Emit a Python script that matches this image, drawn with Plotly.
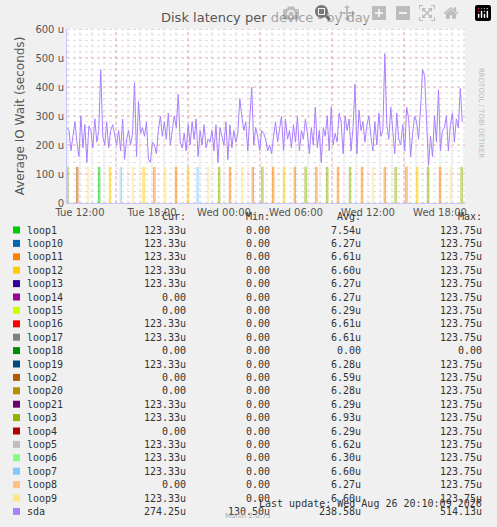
import plotly.graph_objects as go

# sda latency (microseconds), 10-minute samples starting Tue 10:55 (hours since Tue 00:00)
sda_start = 10.92
sda_step = 0.1655
sda_values = [
    260, 250, 180, 230, 280, 210, 160, 300, 190, 270, 140, 265, 250, 190, 290, 210, 250, 460, 230, 200,
    280, 190, 250, 270, 230, 200, 250, 180, 290, 150, 220, 250, 200, 240, 415, 160, 350, 240, 260, 230,
    280, 150, 140, 210, 200, 170, 250, 300, 230, 280, 220, 310, 200, 250, 300, 260, 375, 210, 190, 240,
    180, 270, 200, 280, 220, 290, 160, 250, 200, 270, 190, 220, 210, 250, 180, 270, 140, 260, 230, 200,
    280, 150, 270, 190, 250, 210, 240, 360, 300, 250, 280, 180, 290, 400, 200, 260, 230, 180, 250, 240,
    220, 180, 200, 170, 230, 280, 210, 260, 300, 180, 290, 220, 250, 190, 270, 210, 300, 180, 250, 220,
    290, 240, 170, 260, 200, 330, 190, 250, 140, 260, 230, 300, 180, 330, 200, 240, 210, 310, 280, 170,
    300, 250, 290, 180, 260, 410, 170, 320, 250, 280, 210, 270, 300, 230, 180, 280, 200, 310, 230, 250,
    515, 270, 220, 330, 250, 170, 310, 220, 200, 270, 180, 330, 290, 160, 240, 300, 280, 220, 330, 460,
    440, 270, 130, 230, 160, 300, 210, 390, 180, 250, 260, 300, 180, 270, 310, 210, 290, 260, 395, 280,
]
sda_times = [sda_start + i * sda_step for i in range(len(sda_values))]

# loop device spikes (hour, device), each 123.33u
spike_times = [10.95, 11.78, 12.7, 13.6, 14.5, 15.4, 16.4, 17.3, 18.2, 19.1, 20.0, 21.0, 21.8,
               22.7, 23.6, 24.5, 25.5, 26.4, 27.2, 28.1, 29.0, 29.9, 30.8, 31.7, 32.6, 33.5,
               34.5, 35.5, 36.4, 37.4, 38.3, 39.2, 40.1, 41.0, 42.0, 42.9, 43.8]
spike_devices = ["loop3", "loop2", "loop9", "loop1", "loop12", "loop7", "loop9", "loop12", "loop11",
                 "loop9", "loop11", "loop12", "loop7", "loop9", "loop3", "loop11", "loop9", "loop11",
                 "loop3", "loop11", "loop12", "loop11", "loop3", "loop11", "loop3", "loop11", "loop3",
                 "loop11", "loop9", "loop11", "loop3", "loop11", "loop12", "loop3", "loop11", "loop9",
                 "loop3"]
spike_height = 123.33

names = ["loop1", "loop10", "loop11", "loop12", "loop13", "loop14", "loop15", "loop16", "loop17",
         "loop18", "loop19", "loop2", "loop20", "loop21", "loop3", "loop4", "loop5", "loop6",
         "loop7", "loop8", "loop9", "sda"]
colors = ["#00CC00", "#0066B3", "#FF8000", "#FFCC00", "#330099", "#990099", "#CCFF00", "#FF0000",
          "#808080", "#008F00", "#00487D", "#B35A00", "#B38F00", "#6B006B", "#8FB300", "#B30000",
          "#BEBEBE", "#80FF80", "#80C9FF", "#FFC080", "#FFE680", "#AA80FF"]
cur = ["123.33u", "123.33u", "123.33u", "123.33u", "123.33u", "0.00", "0.00", "123.33u", "123.33u",
       "0.00", "123.33u", "0.00", "0.00", "123.33u", "123.33u", "0.00", "123.33u", "123.33u",
       "123.33u", "0.00", "123.33u", "274.25u"]
mins = ["0.00"] * 21 + ["130.50u"]
avg = ["7.54u", "6.27u", "6.61u", "6.60u", "6.27u", "6.27u", "6.29u", "6.61u", "6.61u", "0.00",
       "6.28u", "6.59u", "6.28u", "6.29u", "6.93u", "6.29u", "6.62u", "6.30u", "6.60u", "6.27u",
       "6.60u", "238.58u"]
maxs = ["123.75u"] * 9 + ["0.00"] + ["123.75u"] * 11 + ["514.13u"]

color_of = dict(zip(names, colors))
L, R, T, B = 67, 465, 29, 203


def px(x):
    return (x - L) / (R - L)


def py(y):
    return (B - y) / (B - T)


fig = go.Figure()

# grid
for v in range(0, 601, 20):
    major = v % 100 == 0
    fig.add_shape(type="line", xref="paper", x0=0, x1=1, y0=v, y1=v, layer="below",
                  line=dict(color="#E8A0A0" if major else "#DDDDDD", width=1, dash="dot"))
for h in range(11, 45):
    major = (h - 3) % 6 == 0
    fig.add_shape(type="line", yref="paper", y0=0, y1=1, x0=h, x1=h, layer="below",
                  line=dict(color="#E8A0A0" if major else "#DDDDDD", width=1, dash="dot"))

for dev in names[:-1]:
    xs, ys = [], []
    for t, d in zip(spike_times, spike_devices):
        if d == dev:
            xs += [t - 0.06, t - 0.06, t + 0.06, t + 0.06, None]
            ys += [0, spike_height, spike_height, 0, None]
    if xs:
        fig.add_trace(go.Scatter(x=xs, y=ys, mode="lines", fill="toself", opacity=0.6,
                                 line=dict(color=color_of[dev], width=1), hoverinfo="skip"))

fig.add_trace(go.Scatter(x=sda_times, y=sda_values, mode="lines",
                         line=dict(color="#AA80FF", width=1)))

fig.update_xaxes(range=[10.92, 44.08], tickvals=[12, 18, 24, 30, 36, 42],
                 ticktext=["Tue 12:00", "Tue 18:00", "Wed 00:00", "Wed 06:00", "Wed 12:00", "Wed 18:00"],
                 showgrid=False, zeroline=False, showline=True, linecolor="#C8C8FF",
                 tickfont=dict(size=10, color="#555555"), ticks="")
fig.update_yaxes(range=[0, 600], tickvals=list(range(0, 601, 100)),
                 ticktext=["0", "100 u", "200 u", "300 u", "400 u", "500 u", "600 u"],
                 showgrid=False, zeroline=False, showline=True, linecolor="#C8C8FF",
                 tickfont=dict(size=10, color="#555555"), ticks="",
                 title=dict(text="Average IO Wait (seconds)", font=dict(size=12, color="#555555"),
                            standoff=8))

ann = []
ann.append(dict(x=0.5, y=py(18), xref="paper", yref="paper", text="Disk latency per device - by day",
                showarrow=False, font=dict(size=13, color="#555555"), xanchor="center", yanchor="middle"))
ann.append(dict(x=px(487), y=py(66), xref="paper", yref="paper", text="RRDTOOL / TOBI OETIKER",
                textangle=90, showarrow=False, font=dict(size=7, color="#BBBBBB")))
mono = dict(family="DejaVu Sans Mono", size=10, color="#333333")
for xr, t in [(188, "Cur:"), (272, "Min:"), (363, "Avg:"), (484, "Max:")]:
    ann.append(dict(x=px(xr), y=py(216), xref="paper", yref="paper", text=t, showarrow=False,
                    font=mono, xanchor="right", yanchor="middle"))
for i, n in enumerate(names):
    yy = py(230 + i * 13.4)
    fig.add_shape(type="rect", xref="paper", yref="paper", x0=px(13), x1=px(20),
                  y0=yy - 3.5 / 174, y1=yy + 3.5 / 174, fillcolor=colors[i], line=dict(width=0))
    ann.append(dict(x=px(25), y=yy, xref="paper", yref="paper", text=n, showarrow=False,
                    font=mono, xanchor="left", yanchor="middle"))
    for xr, v in [(188, cur[i]), (272, mins[i]), (363, avg[i]), (484, maxs[i])]:
        ann.append(dict(x=px(xr), y=yy, xref="paper", yref="paper", text=v, showarrow=False,
                        font=mono, xanchor="right", yanchor="middle"))
ann.append(dict(x=px(484), y=py(503), xref="paper", yref="paper",
                text="Last update: Wed Aug 26 20:10:09 2026", showarrow=False, font=mono,
                xanchor="right", yanchor="middle"))
ann.append(dict(x=px(248), y=py(516), xref="paper", yref="paper", text="Munin 2.0.75",
                showarrow=False, font=dict(size=7, color="#AAAAAA"), xanchor="center", yanchor="middle"))

fig.update_layout(width=497, height=527, margin=dict(l=L, r=497 - R, t=T, b=527 - B),
                  paper_bgcolor="#F0F0F0", plot_bgcolor="#FFFFFF", showlegend=False,
                  font=dict(family="DejaVu Sans"), annotations=ann)

# drop the page's default body margin so the figure sits at the window's top-left
fig.write_html("out.html", post_script="document.body.style.margin='0';document.body.style.overflow='hidden';")
